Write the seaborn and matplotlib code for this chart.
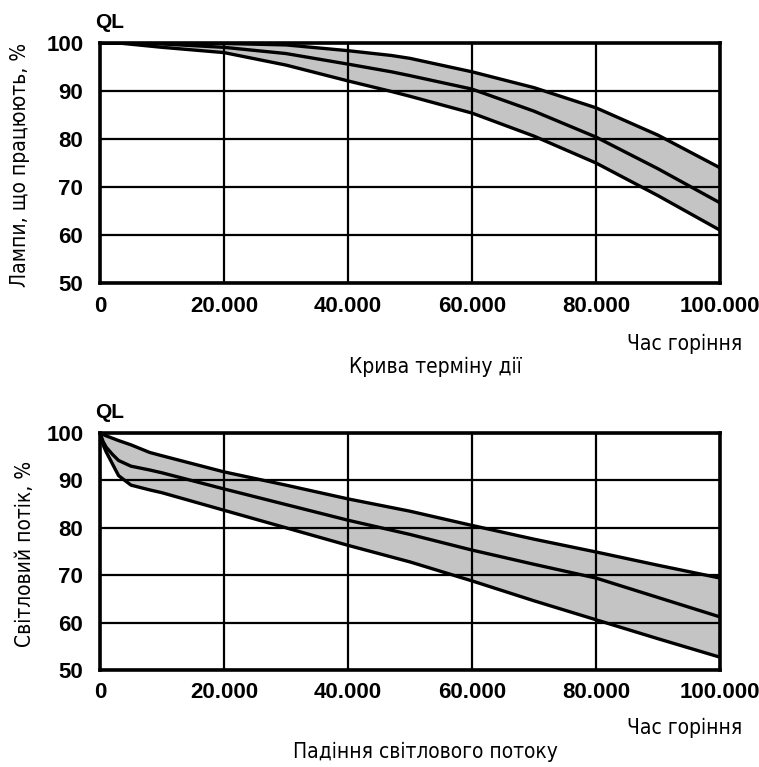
import numpy as np
import pandas as pd
import matplotlib
matplotlib.use('Agg')
import matplotlib.pyplot as plt
import seaborn as sns

# дані: крива терміну дії (лампи, що працюють, %)
life_hours = [0, 3000, 10000, 20000, 30000, 40000, 47000, 50000, 60000, 70000, 80000, 90000, 100000]
life_upper = [100, 100, 100, 99.9, 99.6, 98.4, 97.4, 96.8, 94.0, 90.7, 86.5, 80.8, 74.0]
life_middle = [100, 100, 99.8, 99.1, 97.8, 95.6, 94.0, 93.2, 90.4, 85.8, 80.4, 73.8, 66.7]
life_lower = [100, 100, 99.1, 98.0, 95.4, 92.1, 89.9, 88.9, 85.4, 80.6, 75.0, 68.2, 61.0]

# дані: падіння світлового потоку (%)
flux_hours = [0, 500, 1000, 2000, 3000, 5000, 8000, 10000, 20000, 30000, 40000,
              50000, 60000, 70000, 80000, 90000, 100000]
flux_upper = [100, 99.7, 99.4, 98.9, 98.4, 97.5, 95.9, 95.2, 91.8, 89.0, 86.1,
              83.5, 80.5, 77.6, 74.9, 72.1, 69.4]
flux_middle = [100, 98.2, 97.0, 95.5, 94.2, 93.0, 92.2, 91.6, 88.2, 84.9, 81.6,
               78.6, 75.3, 72.3, 69.4, 65.3, 61.2]
flux_lower = [100, 97.5, 96.0, 93.5, 91.0, 89.0, 88.0, 87.4, 83.7, 80.0, 76.3,
              72.8, 68.8, 64.6, 60.6, 56.6, 52.7]

x_ticks = [0, 20000, 40000, 60000, 80000, 100000]
x_labels = ['0', '20.000', '40.000', '60.000', '80.000', '100.000']
y_ticks = [50, 60, 70, 80, 90, 100]
y_labels = ['50', '60', '70', '80', '90', '100']

sns.set_style('white')
plt.rcParams['font.family'] = ['Liberation Sans', 'DejaVu Sans']
plt.rcParams['text.color'] = 'black'
plt.rcParams['xtick.color'] = 'black'
plt.rcParams['ytick.color'] = 'black'

W, H = 759, 767
fig = plt.figure(figsize=(W / 100, H / 100), dpi=100)


def px_ax(left, top, right, bottom):
    return fig.add_axes([left / W, 1 - bottom / H, (right - left) / W, (bottom - top) / H])


def draw_panel(ax, hours, upper, middle, lower):
    df = pd.DataFrame({'x': hours, 'up': upper, 'mid': middle, 'low': lower})
    ax.fill_between(df['x'], df['low'], df['up'], color='#c4c4c4', zorder=1, linewidth=0)
    for col in ['up', 'mid', 'low']:
        sns.lineplot(data=df, x='x', y=col, ax=ax, color='black', lw=2.4, zorder=3)
    ax.set_xlim(0, 100000)
    ax.set_ylim(50, 100)
    ax.set_xticks(x_ticks)
    ax.set_xticklabels(x_labels, fontsize=16, fontweight='bold')
    ax.set_yticks(y_ticks)
    ax.set_yticklabels(y_labels, fontsize=16, fontweight='bold')
    ax.grid(True, color='black', lw=1.6, zorder=2)
    ax.set_axisbelow(False)
    for s in ax.spines.values():
        s.set_color('black')
        s.set_linewidth(2.6)
        s.set_zorder(4)
    ax.tick_params(axis='x', length=0, pad=9)
    ax.tick_params(axis='y', length=0, pad=12)
    ax.set_xlabel('')
    ax.set_ylabel('')


ax1 = px_ax(100, 43, 720, 283)
draw_panel(ax1, life_hours, life_upper, life_middle, life_lower)
ax2 = px_ax(100, 433, 720, 670)
draw_panel(ax2, flux_hours, flux_upper, flux_middle, flux_lower)

cond = dict(family='DejaVu Sans', fontstretch='condensed', fontsize=15)

fig.text(95 / W, 1 - 23 / H, 'QL', fontsize=15, fontweight='bold', va='center', ha='left')
fig.text(95 / W, 1 - 412 / H, 'QL', fontsize=15, fontweight='bold', va='center', ha='left')

fig.text(20 / W, 1 - 165 / H, 'Лампи, що працюють, %', rotation=90,
         ha='center', va='center', **cond)
fig.text(25 / W, 1 - 554 / H, 'Світловий потік, %', rotation=90,
         ha='center', va='center', **cond)

fig.text(742 / W, 1 - 344 / H, 'Час горіння', ha='right', va='center', **cond)
fig.text(435 / W, 1 - 367 / H, 'Крива терміну дії', ha='center', va='center', **cond)
fig.text(742 / W, 1 - 728 / H, 'Час горіння', ha='right', va='center', **cond)
fig.text(425 / W, 1 - 752 / H, 'Падіння світлового потоку', ha='center', va='center', **cond)

fig.savefig('out.png', dpi=100)
